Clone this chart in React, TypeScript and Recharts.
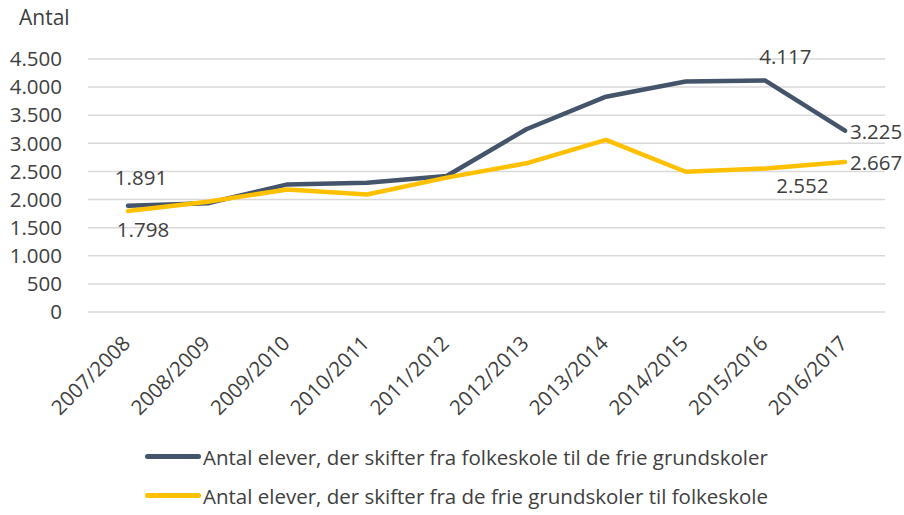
import React from "react";
import { LineChart, Line, XAxis, YAxis, CartesianGrid, Legend, LabelList } from "recharts";

const seasons = [
  "2007/2008", "2008/2009", "2009/2010", "2010/2011", "2011/2012",
  "2012/2013", "2013/2014", "2014/2015", "2015/2016", "2016/2017",
];
const toFrie = [1891, 1935, 2270, 2300, 2420, 3250, 3830, 4100, 4117, 3225];
const toFolke = [1798, 1960, 2180, 2090, 2390, 2645, 3060, 2495, 2552, 2667];
const yTicks = [0, 500, 1000, 1500, 2000, 2500, 3000, 3500, 4000, 4500];
const nameFrie = "Antal elever, der skifter fra folkeskole til de frie grundskoler";
const nameFolke = "Antal elever, der skifter fra de frie grundskoler til folkeskole";
const labelled = [0, 8, 9];

const data = seasons.map((s, i) => ({ season: s, frie: toFrie[i], folke: toFolke[i] }));

const DARK = "#44546A";
const GOLD = "#FFC000";
const TEXT = "#404040";
const FONT = "'Open Sans', sans-serif";

const fmt = (v: number) => String(v).replace(/\B(?=(\d{3})+(?!\d))/g, ".");

// label offsets (dx, dy, anchor) per point index
const frieOffsets: Record<number, [number, number, string]> = {
  0: [13, -29, "middle"],
  8: [20, -25, "middle"],
  9: [5, 0, "start"],
};
const folkeOffsets: Record<number, [number, number, string]> = {
  0: [15, 18, "middle"],
  8: [37, 16, "middle"],
  9: [5, 0, "start"],
};

const makeLabel = (offsets: Record<number, [number, number, string]>, values: number[]) => (props: any) => {
  const { x, y, index } = props;
  const o = offsets[index];
  if (!o || !labelled.includes(index)) return null;
  return (
    <text x={x + o[0]} y={y + o[1]} textAnchor={o[2] as any} dominantBaseline="central"
      fill={TEXT} fontSize={20.5} fontFamily={FONT}>
      {fmt(values[index])}
    </text>
  );
};

const SeasonTick = (props: any) => {
  const { x, y, payload } = props;
  const ax = x - 2;
  const ay = y + 19;
  return (
    <text x={ax} y={ay} transform={`rotate(-45, ${ax}, ${ay})`} textAnchor="end"
      dominantBaseline="central" fill={TEXT} fontSize={20.5} fontFamily={FONT}>
      {payload.value}
    </text>
  );
};

const LegendBox = () => (
  <div style={{ fontFamily: FONT, fontSize: 20.5, color: TEXT }}>
    {[[DARK, nameFrie], [GOLD, nameFolke]].map(([c, n]) => (
      <div key={n} style={{ display: "flex", alignItems: "center", height: 39, marginLeft: 145 }}>
        <div style={{ width: 56, height: 5, background: c, borderRadius: 3, marginRight: 2 }} />
        <span>{n}</span>
      </div>
    ))}
  </div>
);

export default function App() {
  return (
    <div style={{ position: "absolute", left: 0, top: 0, width: 904, height: 515, background: "#fff" }}>
      <div style={{ position: "absolute", left: 19, top: 3, fontFamily: FONT, fontSize: 21, color: TEXT }}>
        Antal
      </div>
      <LineChart width={904} height={515} data={data} margin={{ top: 59, right: 19, left: 0, bottom: 0 }}>
        <CartesianGrid vertical={false} stroke="#d9d9d9" strokeWidth={1.5} />
        <XAxis dataKey="season" axisLine={false} tickLine={false} height={125} interval={0}
          padding={{ left: 40, right: 40 }} tick={<SeasonTick />} />
        <YAxis domain={[0, 4500]} ticks={yTicks} width={88} axisLine={false} tickLine={false}
          tickFormatter={fmt} tick={{ fill: TEXT, fontSize: 20.5, fontFamily: FONT }} tickMargin={20} />
        <Legend verticalAlign="bottom" content={<LegendBox />} wrapperStyle={{ left: 0, bottom: 0 }} />
        <Line dataKey="frie" name={nameFrie} stroke={DARK} strokeWidth={4.5} dot={false}
          strokeLinecap="round" strokeLinejoin="round" isAnimationActive={false}>
          <LabelList dataKey="frie" content={makeLabel(frieOffsets, toFrie)} />
        </Line>
        <Line dataKey="folke" name={nameFolke} stroke={GOLD} strokeWidth={4.5} dot={false}
          strokeLinecap="round" strokeLinejoin="round" isAnimationActive={false}>
          <LabelList dataKey="folke" content={makeLabel(folkeOffsets, toFolke)} />
        </Line>
      </LineChart>
    </div>
  );
}
